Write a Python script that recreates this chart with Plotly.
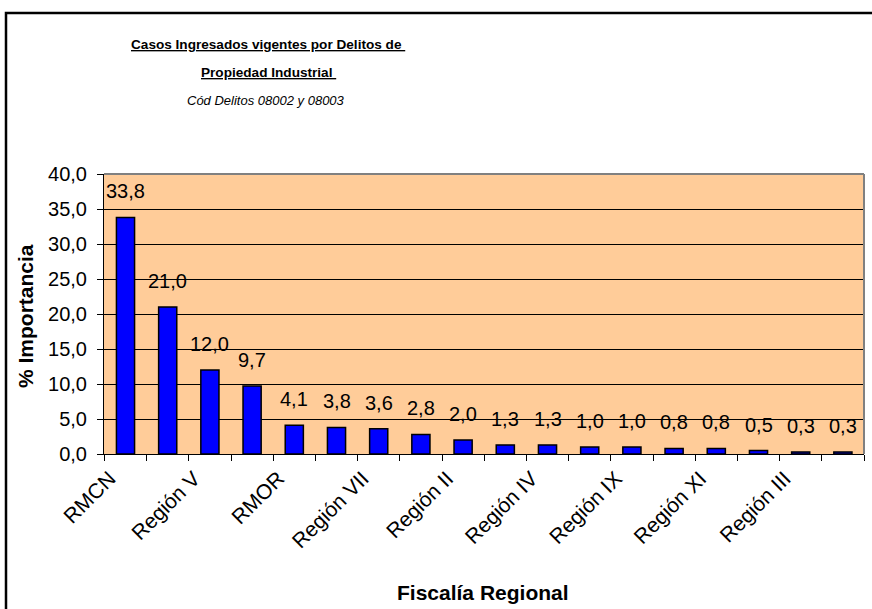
import plotly.graph_objects as go

# Fiscalías regionales (18), only every other label shown on the axis
categories = ["RMCN", "RMS", "Región V", "RMOC", "RMOR", "Región VIII",
              "Región VII", "Región VI", "Región II", "Región X", "Región IV",
              "Región I", "Región IX", "Región XII", "Región XI", "Región XIV",
              "Región III", "Región XV"]
values = [33.8, 21.0, 12.0, 9.7, 4.1, 3.8, 3.6, 2.8, 2.0, 1.3, 1.3,
          1.0, 1.0, 0.8, 0.8, 0.5, 0.3, 0.3]
tick_text = [c if i % 2 == 0 else "" for i, c in enumerate(categories)]

W, H = 872, 609
L, R, T, B = 104, 8, 174, 155
pw, ph = W - L - R, H - T - B


def px(x):
    # screen pixel x -> paper coordinate
    return (x - L) / pw


def py(y):
    return (H - B - y) / ph


FONT = "Liberation Sans, Arial, sans-serif"

fig = go.Figure()
fig.add_trace(go.Bar(
    x=categories, y=values,
    marker=dict(color="#0000FF", line=dict(color="black", width=1.5)),
    showlegend=False,
))

# value labels floating above the bars
annotations = [
    dict(x=c, y=v, text=f"{v:.1f}".replace(".", ","), showarrow=False,
         xanchor="center", yanchor="middle", yshift=26,
         font=dict(size=20, color="black"))
    for c, v in zip(categories, values)
]


def label(x, y, text, size, angle=0):
    return dict(x=px(x), y=py(y), xref="paper", yref="paper", showarrow=False,
                xanchor="center", yanchor="middle", text=text, textangle=angle,
                font=dict(size=size, color="black"))


annotations += [
    label(268, 44, "<u><b>Casos Ingresados vigentes por Delitos de </b></u>", 13.6),
    label(268, 73, "<u><b>Propiedad Industrial </b></u>", 13.6),
    label(266, 100, "<i>Cód Delitos 08002 y 08003</i>", 13),
    label(25, 316, "<b>% Importancia</b>", 21, -90),
    label(483, 592, "<b>Fiscalía Regional</b>", 21),
]

shapes = [
    # outer chart border (cropped on right and bottom)
    dict(type="rect", xref="paper", yref="paper",
         x0=px(6), y0=py(660), x1=px(900), y1=py(13),
         line=dict(color="black", width=2.5), layer="below"),
    # gray plot area frame on top and right
    dict(type="line", xref="paper", yref="paper", x0=0, x1=1, y0=1, y1=1,
         line=dict(color="#808080", width=2)),
    dict(type="line", xref="paper", yref="paper", x0=1, x1=1, y0=0, y1=1,
         line=dict(color="#808080", width=2)),
]

fig.update_layout(
    width=W, height=H,
    margin=dict(l=L, r=R, t=T, b=B),
    paper_bgcolor="white",
    plot_bgcolor="#FFCC99",
    separators=",.",
    font=dict(family=FONT, color="black"),
    bargap=0.57,
    annotations=annotations,
    shapes=shapes,
)
fig.update_xaxes(
    type="category", tickmode="array", tickvals=categories, ticktext=tick_text,
    tickson="boundaries", ticks="outside", ticklen=6, tickcolor="black",
    showline=True, linecolor="black", linewidth=1, showgrid=False,
    tickangle=-45, tickfont=dict(size=21, color="black"), automargin=False,
    ticklabelshift=-16, ticklabelstandoff=3,
)
fig.update_yaxes(
    range=[0, 40], dtick=5, tickformat=".1f",
    ticks="outside", ticklen=6, tickcolor="black",
    showline=True, linecolor="black", linewidth=1,
    showgrid=True, gridcolor="black", gridwidth=1, zeroline=False,
    tickfont=dict(size=20, color="black"), ticklabelstandoff=6,
    automargin=False,
)

# drop the default page margin so the figure sits at the window origin
fig.write_html("out.html", config={"displayModeBar": False},
               post_script="document.body.style.margin='0';")
